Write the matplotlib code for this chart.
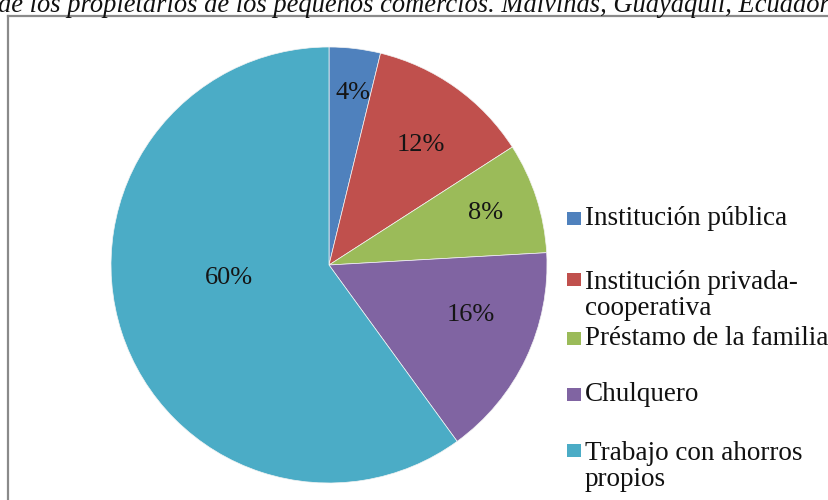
import matplotlib
matplotlib.use("Agg")
import matplotlib.pyplot as plt
from matplotlib.patches import Rectangle
from matplotlib.lines import Line2D

# ---- data ----
categories = ["Institución pública", "Institución privada-\ncooperativa",
              "Préstamo de la familia", "Chulquero", "Trabajo con ahorros\npropios"]
values = [3.8, 12.1, 8.2, 15.9, 60.0]
colors = ["#4F81BD", "#C0504D", "#9BBB59", "#8064A2", "#4BACC6"]
title = "de los propietarios de los pequeños comercios. Malvinas, Guayaquil, Ecuador"

W, H = 829, 500
fig = plt.figure(figsize=(W / 100, H / 100), dpi=100)
fig.patch.set_facecolor("white")

serif = ["Liberation Serif", "DejaVu Serif"]

def px(x, y):
    return x / W, 1 - y / H

# title (cut at top, as in the reference)
tx, ty = px(-2, 12)
fig.text(tx, ty, title, fontfamily=serif, fontstyle="italic", fontsize=19.1,
         va="baseline", ha="left", color="#111111")

# chart frame border
x0, y0 = px(8.5, 15.5)
fig.add_artist(Line2D([x0, x0], [y0, -0.01], transform=fig.transFigure,
                      color="#8a8a8a", lw=1.6))
fig.add_artist(Line2D([x0, 1.01], [y0, y0], transform=fig.transFigure,
                      color="#8a8a8a", lw=1.6))

# pie
cx, cy, r = 329, 265, 218
ax = fig.add_axes([(cx - r) / W, (H - cy - r) / H, 2 * r / W, 2 * r / H])
wedges, texts, autotexts = ax.pie(values, colors=colors, startangle=90,
                                  counterclock=False, autopct="%.0f%%",
                                  wedgeprops=dict(edgecolor="#f4f4f4", linewidth=0.5),
                                  textprops=dict(fontfamily=serif, fontsize=19,
                                                 color="#151515"))
ax.set_xlim(-1, 1)
ax.set_ylim(-1, 1)
ax.set_aspect("equal")
ax.axis("off")

label_pos = [(0.11, 0.79), (0.42, 0.55), (0.72, 0.24), (0.65, -0.23), (-0.46, -0.06)]
for t, p in zip(autotexts, label_pos):
    t.set_position(p)
    t.set_ha("center")
    t.set_va("center")

# legend (manual, Excel-like)
baselines = [225, 286, 345, 401, 457]
line_h = 29
for lab, col, b in zip(categories, colors, baselines):
    sx, sy = px(567, b)
    fig.add_artist(Rectangle((sx, sy), 14 / W, 13 / H, transform=fig.transFigure,
                             facecolor=col, edgecolor="none"))
    nlines = lab.count("\n") + 1
    lx, ly = px(585, b + line_h * (nlines - 1))
    fig.text(lx, ly, lab, fontfamily=serif, fontsize=19.5, va="baseline",
             ha="left", linespacing=1.07, color="#111111")

fig.savefig("out.png", dpi=100, facecolor="white")
